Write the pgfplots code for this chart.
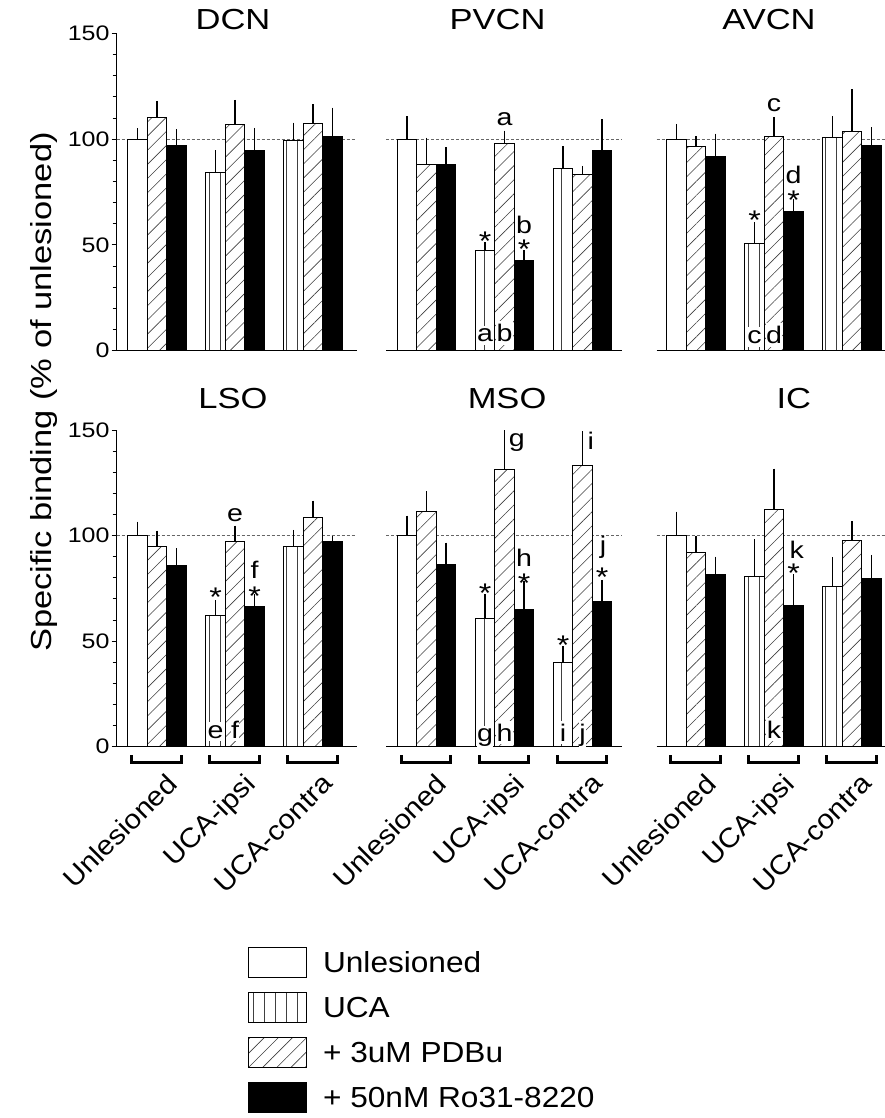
\documentclass[border=0pt]{standalone}
\usepackage{fontspec}
\setmainfont{Liberation Sans}[FakeStretch=1.19]
\newfontfamily\legfont{Liberation Sans}[FakeStretch=1.09]
\usepackage{pgfplots}
\pgfplotsset{compat=1.18}
\usetikzlibrary{patterns.meta}

\pgfplotsset{
  panel/.style={
    scale only axis, ybar, bar width=1, ymin=0, ymax=150, clip=false,
    anchor=south west,
    axis line style={line width=1pt, black},
    xtick=\empty,
    /pgf/number format/assume math mode=true,
    title style={font=\fontsize{29}{29}\selectfont, anchor=base, at={(0.5,1)}, inner sep=0pt},
  },
  yaxpanel/.style={axis x line*=bottom, axis y line*=left, ytick={0,50,100,150},
    minor y tick num=4, tick align=outside, major tick length=5pt, minor tick length=4pt,
    yticklabel style={font=\fontsize{21}{21}\selectfont, inner sep=2pt},
    tick style={line width=1pt, black}},
  noypanel/.style={axis x line*=bottom, axis y line=none, ytick=\empty},
  dashline/.style={forget plot, sharp plot, mark=none, bar shift=0pt, black!60, line width=0.7pt, dash pattern=on 3pt off 2pt},
  wbar/.style={draw=black, line width=1pt, fill=white, bar shift=0pt},
  vbar/.style={draw=black, line width=1pt, fill=white, bar shift=0pt,
    postaction={pattern={Lines[angle=90,distance=11pt,line width=0.6pt]}, pattern color=black!75}},
  hbar/.style={draw=black, line width=1pt, fill=white, bar shift=0pt,
    postaction={pattern={Lines[angle=45,distance=10pt,line width=0.6pt]}, pattern color=black!75}},
  kbar/.style={draw=black, line width=1pt, fill=black, bar shift=0pt},
  eb/.style={error bars/y dir=plus, error bars/y explicit, error bars/error mark=none,
    error bars/error bar style={line width=1.2pt, black, solid}},
}
\tikzset{
  ann/.style={font=\fontsize{24}{24}\selectfont, inner sep=0pt, anchor=base},
  st/.style={font=\fontsize{27}{27}\selectfont, inner sep=0pt, anchor=base, yshift=-15.5pt},
  bl/.style={font=\fontsize{24}{24}\selectfont, inner xsep=0.5pt, inner ysep=3pt, anchor=base, fill=white},
  xl/.style={rotate=45, anchor=north east, inner sep=0pt, font=\legfont\fontsize{27}{27}\selectfont},
}
\newcommand{\brackets}{%
  \draw[line width=3.2pt] ([yshift=-8.3pt]axis cs:-1.3,0) |- ([yshift=-15.4pt]axis cs:1.25,0) -- ([yshift=-8.3pt]axis cs:1.25,0);
  \draw[line width=3.2pt] ([yshift=-8.3pt]axis cs:2.7,0) |- ([yshift=-15.4pt]axis cs:5.25,0) -- ([yshift=-8.3pt]axis cs:5.25,0);
  \draw[line width=3.2pt] ([yshift=-8.3pt]axis cs:6.7,0) |- ([yshift=-15.4pt]axis cs:9.25,0) -- ([yshift=-8.3pt]axis cs:9.25,0);
  \node[xl] at ([xshift=8pt,yshift=-25pt]axis cs:0,0) {Unlesioned};
  \node[xl] at ([xshift=8pt,yshift=-25pt]axis cs:4,0) {UCA-ipsi};
  \node[xl] at ([xshift=8pt,yshift=-25pt]axis cs:8,0) {UCA-contra};
}

\begin{document}
\begin{tikzpicture}
\path[use as bounding box] (0pt,0pt) rectangle (885pt,-1118pt);

% ---------------- DCN
\begin{axis}[panel, yaxpanel, at={(116.7pt,-350.7pt)}, width=240pt, height=317.2pt,
  xmin=-2.067, xmax=10.24, title={DCN}, title style={xshift=-3.7pt, yshift=-2.5pt}]
\addplot[dashline] coordinates {(-2.067,100) (10.24,100)};
\addplot[wbar, eb] table[row sep=\\, x=x, y=y, y error=e] {x y e\\ -1 100 5.2\\};
\addplot[vbar, eb] table[row sep=\\, x=x, y=y, y error=e] {x y e\\ 3 84.5 10.4\\ 7 99.4 8.5\\};
\addplot[hbar, eb] table[row sep=\\, x=x, y=y, y error=e] {x y e\\ 0 110.4 7.7\\ 4 107.1 11.5\\ 8 107.6 9\\};
\addplot[kbar, eb] table[row sep=\\, x=x, y=y, y error=e] {x y e\\ 1 97 7.7\\ 5 94.5 10.9\\ 9 101.3 13.7\\};
\end{axis}

% ---------------- PVCN
\begin{axis}[panel, noypanel, at={(386pt,-350.7pt)}, width=235.7pt, height=317.2pt,
  xmin=-2.077, xmax=10.01, title={PVCN}, title style={xshift=-6.3pt, yshift=-2.5pt}]
\addplot[dashline] coordinates {(-2.077,100) (10.01,100)};
\addplot[wbar, eb] table[row sep=\\, x=x, y=y, y error=e] {x y e\\ -1 100 10.9\\};
\addplot[vbar, eb] table[row sep=\\, x=x, y=y, y error=e] {x y e\\ 3 47.2 4.1\\ 7 86.3 10.5\\};
\addplot[hbar, eb] table[row sep=\\, x=x, y=y, y error=e] {x y e\\ 0 88.2 12.6\\ 4 98.1 6\\ 8 83.4 4\\};
\addplot[kbar, eb] table[row sep=\\, x=x, y=y, y error=e] {x y e\\ 1 88.2 7.9\\ 5 42.6 5\\ 9 94.5 15\\};
\node[st] at (axis cs:3,54.8) {*};
\node[ann] at (axis cs:4,106.3) {a};
\node[ann] at (axis cs:5,55.6) {b};
\node[st] at (axis cs:5,51.1) {*};
\node[bl] at (axis cs:3,4.3) {a};
\node[bl] at (axis cs:4,4.3) {b};
\end{axis}

% ---------------- AVCN
\begin{axis}[panel, noypanel, at={(656.7pt,-350.7pt)}, width=228.3pt, height=317.2pt,
  xmin=-2.015, xmax=9.69, title={AVCN}, title style={xshift=-1.9pt, yshift=-2.5pt}]
\addplot[dashline] coordinates {(-2.015,100) (9.69,100)};
\addplot[wbar, eb] table[row sep=\\, x=x, y=y, y error=e] {x y e\\ -1 100 7.3\\};
\addplot[vbar, eb] table[row sep=\\, x=x, y=y, y error=e] {x y e\\ 3 50.6 10.1\\ 7 100.8 10.1\\};
\addplot[hbar, eb] table[row sep=\\, x=x, y=y, y error=e] {x y e\\ 0 96.8 4.7\\ 4 101.1 9.5\\ 8 103.5 20.2\\};
\addplot[kbar, eb] table[row sep=\\, x=x, y=y, y error=e] {x y e\\ 1 92 10.7\\ 5 65.9 5.8\\ 9 97.2 8.4\\};
\node[st] at (axis cs:3,64.8) {*};
\node[ann] at (axis cs:4,113.1) {c};
\node[ann] at (axis cs:5,79.2) {d};
\node[st] at (axis cs:5,74.2) {*};
\node[bl] at (axis cs:3,3.5) {c};
\node[bl] at (axis cs:4,3.5) {d};
\end{axis}

% ---------------- LSO
\begin{axis}[panel, yaxpanel, at={(116.7pt,-746.7pt)}, width=240pt, height=316.7pt,
  xmin=-2.067, xmax=10.24, title={LSO}, title style={xshift=-3.7pt, yshift=16pt}]
\addplot[dashline] coordinates {(-2.067,100) (10.24,100)};
\addplot[wbar, eb] table[row sep=\\, x=x, y=y, y error=e] {x y e\\ -1 100 6.6\\};
\addplot[vbar, eb] table[row sep=\\, x=x, y=y, y error=e] {x y e\\ 3 62.3 7\\ 7 94.6 8.1\\};
\addplot[hbar, eb] table[row sep=\\, x=x, y=y, y error=e] {x y e\\ 0 94.6 7.8\\ 4 97.3 7.4\\ 8 108.7 7.8\\};
\addplot[kbar, eb] table[row sep=\\, x=x, y=y, y error=e] {x y e\\ 1 85.8 8.2\\ 5 66.3 5.9\\ 9 97.2 2.6\\};
\node[st] at (axis cs:3,73.9) {*};
\node[ann] at (axis cs:4,106.6) {e};
\node[ann] at (axis cs:5,79.8) {f};
\node[st] at (axis cs:5,74.4) {*};
\node[bl] at (axis cs:3,4) {e};
\node[bl] at (axis cs:4,4) {f};
\brackets
\end{axis}

% ---------------- MSO
\begin{axis}[panel, noypanel, at={(386pt,-746.7pt)}, width=235.7pt, height=316.7pt,
  xmin=-2.077, xmax=10.01, title={MSO}, title style={xshift=3.2pt, yshift=16pt}]
\addplot[dashline] coordinates {(-2.077,100) (10.01,100)};
\addplot[wbar, eb] table[row sep=\\, x=x, y=y, y error=e] {x y e\\ -1 100 9.5\\};
\addplot[vbar, eb] table[row sep=\\, x=x, y=y, y error=e] {x y e\\ 3 60.6 11.6\\ 7 39.9 7.6\\};
\addplot[hbar, eb] table[row sep=\\, x=x, y=y, y error=e] {x y e\\ 0 111.2 9.7\\ 4 131.2 18.8\\ 8 133.3 16\\};
\addplot[kbar, eb] table[row sep=\\, x=x, y=y, y error=e] {x y e\\ 1 86.2 10.5\\ 5 65 13.5\\ 9 68.7 10.3\\};
\node[st] at (axis cs:3,75.5) {*};
\node[ann] at (axis cs:4.63,142.2) {g};
\node[ann] at (axis cs:5,85.3) {h};
\node[st] at (axis cs:5,80.3) {*};
\node[st] at (axis cs:7,50.9) {*};
\node[ann] at (axis cs:8.42,140.6) {i};
\node[ann] at (axis cs:9.05,91.7) {j};
\node[st] at (axis cs:9,83.4) {*};
\node[bl] at (axis cs:3,2.5) {g};
\node[bl] at (axis cs:4,2.5) {h};
\node[bl] at (axis cs:7,2.5) {i};
\node[bl] at (axis cs:8,2.5) {j};
\brackets
\end{axis}

% ---------------- IC
\begin{axis}[panel, noypanel, at={(656.7pt,-746.7pt)}, width=228.3pt, height=316.7pt,
  xmin=-2.015, xmax=9.69, title={IC}, title style={xshift=23pt, yshift=16pt},
  legend style={at={(-1.792,-0.631)}, anchor=north west, draw=none, fill=none,
    inner sep=0pt, outer sep=0pt, font=\legfont\fontsize{29}{29}\selectfont,
    row sep=14pt, column sep=16.5pt,
    nodes={inner sep=0pt, text height=20.7pt, text depth=0pt}},
  legend cell align=left,
  legend image code/.code={\draw[#1] (0pt,-15pt) rectangle (58pt,15pt);}]
\addplot[dashline] coordinates {(-2.015,100) (9.69,100)};
\addplot[wbar, eb] table[row sep=\\, x=x, y=y, y error=e] {x y e\\ -1 100 11.4\\};
\addplot[vbar, eb] table[row sep=\\, x=x, y=y, y error=e] {x y e\\ 3 80.4 17.9\\ 7 75.9 13.8\\};
\addplot[hbar, eb] table[row sep=\\, x=x, y=y, y error=e] {x y e\\ 0 92.1 7.8\\ 4 112.2 19.5\\ 8 97.8 8.9\\};
\addplot[kbar, eb] table[row sep=\\, x=x, y=y, y error=e] {x y e\\ 1 81.6 8.4\\ 5 66.9 14.9\\ 9 79.7 11.2\\};
\legend{Unlesioned, UCA, + 3uM PDBu, + 50nM Ro31-8220}
\node[ann] at (axis cs:5.16,89.3) {k};
\node[st] at (axis cs:5,85) {*};
\node[bl] at (axis cs:4,4) {k};
\brackets
\end{axis}

\node[rotate=90, anchor=base, inner sep=0pt, font=\fontsize{29}{29}\selectfont] at (51.7pt,-392pt) {Specific binding (\% of unlesioned)};
\end{tikzpicture}
\end{document}
